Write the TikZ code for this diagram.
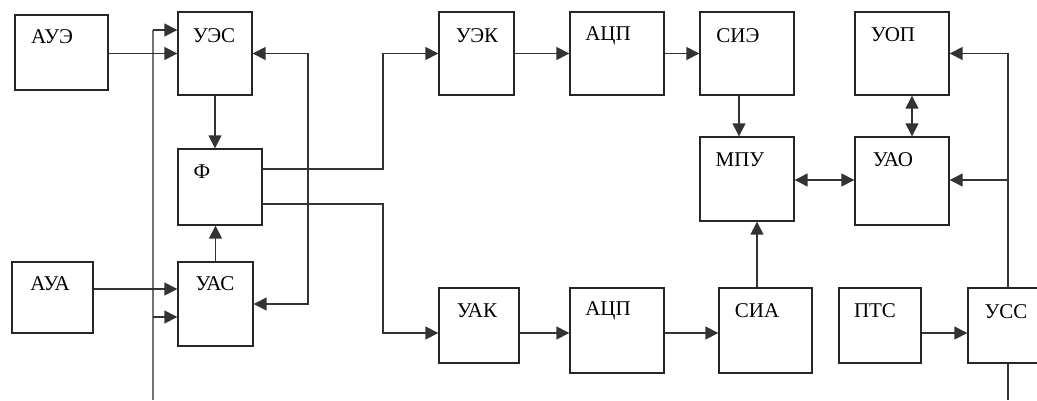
\documentclass[tikz,border=0pt]{standalone}
\usepackage{fontspec}
\setmainfont{Liberation Serif}
\usetikzlibrary{arrows.meta}
\begin{document}
\begin{tikzpicture}[x=1pt,y=-1pt,
  box/.style={draw=black!85,line width=1.4pt,inner sep=0pt,minimum width=#1},
  lbl/.style={inner sep=0pt,font=\fontsize{21}{24}\selectfont},
  con/.style={draw=black!80,line width=1.5pt},
  arr/.style={con,-{Triangle[length=13pt,width=13pt]}},
  arrb/.style={con,{Triangle[length=13pt,width=13pt]}-{Triangle[length=13pt,width=13pt]}},
  bus/.style={draw=black!55,line width=1.8pt}]
\clip (0,0) rectangle (1037,400);
\fill[white] (0,0) rectangle (1037,400);
% boxes
\node[box=93pt,minimum height=75pt] (aue) at (61.5,52.5) {};
\node[box=74pt,minimum height=83pt] (ues) at (215,53.5) {};
\node[box=84pt,minimum height=76pt] (f) at (220,187) {};
\node[box=81pt,minimum height=71pt] (aua) at (52.5,297.5) {};
\node[box=75pt,minimum height=84pt] (uas) at (215.5,304) {};
\node[box=75pt,minimum height=83pt] (uek) at (476.5,53.5) {};
\node[box=94pt,minimum height=83pt] (acpa) at (617,53.5) {};
\node[box=94pt,minimum height=83pt] (sie) at (747,53.5) {};
\node[box=94pt,minimum height=83pt] (uop) at (902,53.5) {};
\node[box=94pt,minimum height=84pt] (mpu) at (747,179) {};
\node[box=94pt,minimum height=88pt] (uao) at (902,181) {};
\node[box=80pt,minimum height=75pt] (uak) at (479,325.5) {};
\node[box=94pt,minimum height=85pt] (acpb) at (617,330.5) {};
\node[box=93pt,minimum height=85pt] (sia) at (765.5,330.5) {};
\node[box=82pt,minimum height=75pt] (pts) at (880,325.5) {};
\node[box=90pt,minimum height=75pt] (uss) at (1013,325.5) {};
% labels
\node[lbl] (taue) at (52,37) {АУЭ};
\node[lbl] (tues) at (214,36) {УЭС};
\node[lbl] (tf) at (202,172) {Ф};
\node[lbl] (taua) at (50,284) {АУА};
\node[lbl] (tuas) at (215,284) {УАС};
\node[lbl] (tuek) at (477,36) {УЭК};
\node[lbl] (tacpa) at (608,36) {АЦП};
\node[lbl] (tsie) at (738,36) {СИЭ};
\node[lbl] (tuop) at (893,35) {УОП};
\node[lbl] (tmpu) at (740,160) {МПУ};
\node[lbl] (tuao) at (893,160) {УАО};
\node[lbl] (tuak) at (477,311) {УАК};
\node[lbl] (tacpb) at (608,311) {АЦП};
\node[lbl] (tsia) at (757,311) {СИА};
\node[lbl] (tpts) at (875,311) {ПТС};
\node[lbl] (tuss) at (1006,312) {УСС};
% coordinates
\coordinate (vtop) at (153,30);
\coordinate (vbot) at (153,400);
\coordinate (vmid) at (153,317);
\coordinate (fbA) at (308,53.5);
\coordinate (fbB) at (308,304);
\coordinate (fo1) at (262,169);
\coordinate (fo2) at (262,204);
\coordinate (jx) at (383,0);
\coordinate (lowy) at (0,333);
\coordinate (rA) at (1008,288);
\coordinate (rB) at (1008,53.5);
\coordinate (rC) at (1008,180);
\coordinate (rD) at (1008,363);
\coordinate (rE) at (1008,400);
% left part
\draw[bus] (vtop) -- (vbot);
\draw[arr] (vtop) -- (vtop -| ues.west);
\draw[arr] (vmid) -- (vmid -| uas.west);
\draw[arr] (aue.east |- ues.west) -- (ues.west);
\draw[arr] (aua.east |- 0,289) -- (uas.west |- 0,289);
\draw[arr] (ues.south) -- (ues.south |- f.north);
\draw[arr] (uas.north) -- (uas.north |- f.south);
\draw[arrb] (ues.east) -- (fbA) -- (fbB) -- (uas.east);
% from filter
\draw[arr] (fo1) -| (jx |- uek.west) -- (uek.west);
\draw[arr] (fo2) -| (jx |- lowy) -- (uak.west |- lowy);
% upper chain
\draw[arr] (uek.east) -- (acpa.west);
\draw[arr] (acpa.east) -- (sie.west);
\draw[arr] (sie.south -| 739,0) -- (mpu.north -| 739,0);
% lower chain
\draw[arr] (uak.east |- lowy) -- (acpb.west |- lowy);
\draw[arr] (acpb.east |- lowy) -- (sia.west |- lowy);
\draw[arr] (sia.north -| 757,0) -- (mpu.south -| 757,0);
\draw[arr] (pts.east |- lowy) -- (uss.west |- lowy);
% right part
\draw[arrb] (mpu.east |- 0,180) -- (uao.west |- 0,180);
\draw[arrb] (uop.south -| 912,0) -- (uao.north -| 912,0);
\draw[arr] (rA) -- (rB) -- (uop.east);
\draw[arr] (rC) -- (uao.east |- rC);
\draw[con] (rD) -- (rE);
\end{tikzpicture}
\end{document}
